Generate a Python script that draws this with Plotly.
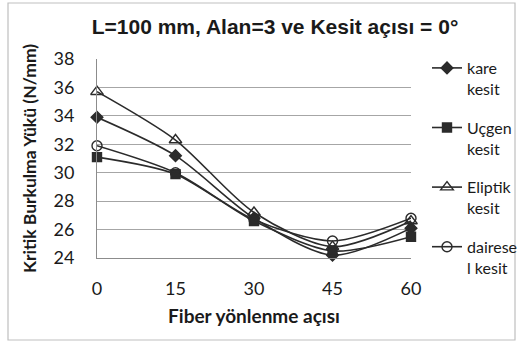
import plotly.graph_objects as go

# Fibre orientation angles (degrees)
angles = [0, 15, 30, 45, 60]

# Critical buckling load (N/mm) per cross-section type
kare = [33.9, 31.2, 26.8, 24.2, 26.1]
ucgen = [31.1, 29.9, 26.6, 24.5, 25.5]
eliptik = [35.7, 32.3, 27.2, 24.8, 26.6]
dairesel = [31.9, 30.0, 26.7, 25.2, 26.8]

series_names = ["kare<br>kesit", "Uçgen<br>kesit", "Eliptik<br>kesit", "dairese<br>l kesit"]
series_values = [kare, ucgen, eliptik, dairesel]
symbols = ["diamond", "square", "triangle-up-open", "circle-open"]
marker_sizes = [9, 9, 11, 10]

W, H = 519, 346
L, R, T, B = 97, 108, 59, 88
pw, ph = W - L - R, H - T - B

line_col = "#2b2b2b"
fig = go.Figure()
for i, (name, vals) in enumerate(zip(series_names, series_values)):
    fig.add_trace(go.Scatter(
        x=angles, y=vals, name=name, mode="lines+markers",
        line=dict(color=line_col, width=1.6, shape="spline", smoothing=0.8),
        marker=dict(symbol=symbols[i], size=marker_sizes[i], color=line_col,
                    line=dict(color=line_col, width=1.4)),
        legendgroup=f"g{i}", cliponaxis=False,
    ))


def px_x(px):
    return (px - L) / pw


def px_y(py):
    return (H - B - py) / ph


fig.update_layout(
    width=W, height=H,
    margin=dict(l=L, r=R, t=T, b=B, autoexpand=False),
    paper_bgcolor="white", plot_bgcolor="white",
    font=dict(family="Lato, Open Sans, sans-serif", color="#1a1a1a"),
    title=dict(text="<b>L=100 mm, Alan=3 ve Kesit açısı = 0°</b>",
               font=dict(family="Liberation Sans, Arial, sans-serif", size=21, color="#1a1a1a"),
               x=275 / W, xanchor="center", y=1 - 27 / H, yanchor="middle"),
    xaxis=dict(range=[0, 60], tickvals=angles, ticktext=[str(a) for a in angles],
               showgrid=False, zeroline=False, showline=True, linecolor="#8c8c8c",
               linewidth=1, ticks="", tickfont=dict(size=18), ticklabelstandoff=14,
               title=dict(text="<b>Fiber yönlenme açısı</b>", font=dict(size=19), standoff=12)),
    yaxis=dict(range=[24, 38], dtick=2, showgrid=True, gridcolor="#a6a6a6", gridwidth=1,
               zeroline=False, showline=True, linecolor="#8c8c8c", linewidth=1,
               tickfont=dict(size=18), ticks="", ticklabelstandoff=18,
               title=dict(text="<b>Kritik Burkulma Yükü (N/mm)</b>", font=dict(size=17.5), standoff=12)),
    legend=dict(x=px_x(427), xanchor="left", y=px_y(51), yanchor="top",
                font=dict(size=16, color="#1a1a1a"), valign="top",
                tracegroupgap=15, itemwidth=30, maxheight=290,
                bgcolor="rgba(0,0,0,0)"),
    shapes=[dict(type="rect", xref="paper", yref="paper",
                 x0=px_x(8), x1=px_x(515), y0=px_y(340), y1=px_y(3),
                 line=dict(color="#bfbfbf", width=1.2), layer="below")],
)

fig.write_html("out.html")
